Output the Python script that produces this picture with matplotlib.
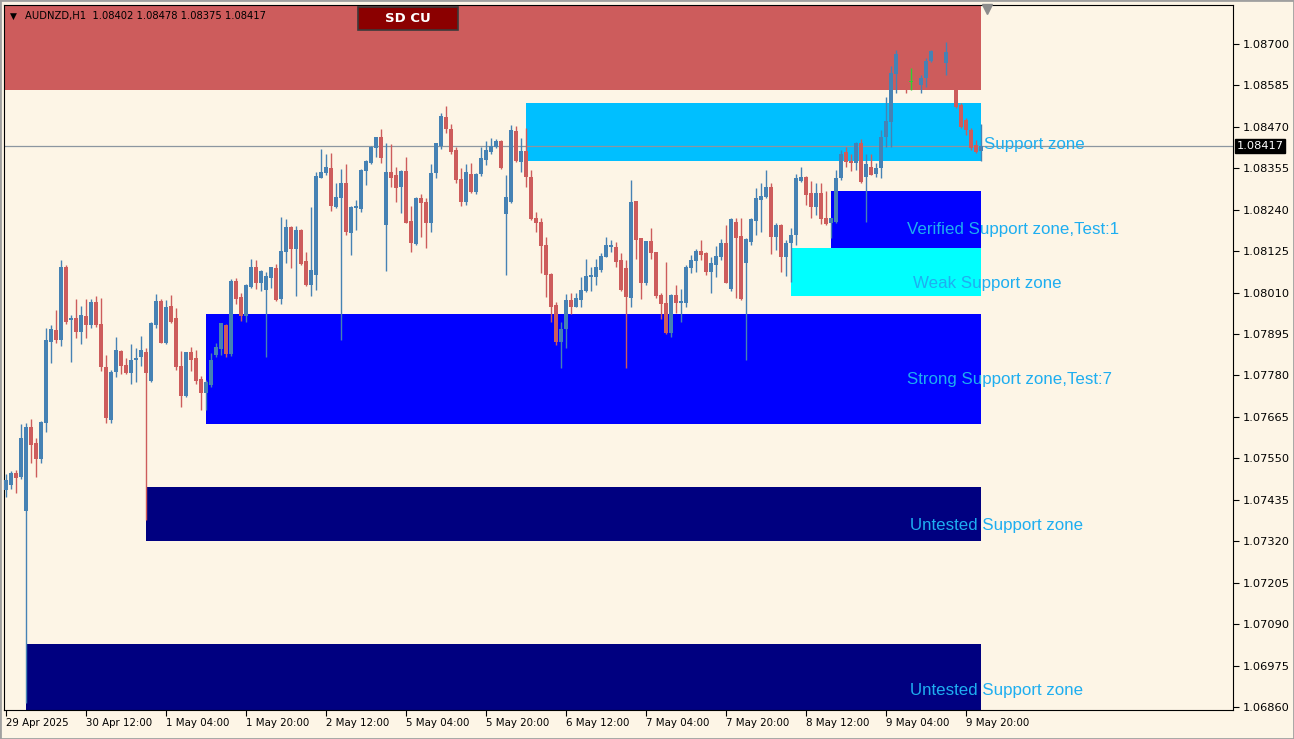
import numpy as np
import matplotlib.pyplot as plt
from matplotlib.patches import Rectangle

# AUDNZD H1 candles, 29 Apr 20:00 .. 9 May 23:00 (bar index = hour on chart)
opens = [
    1.07462, 1.07476, 1.07510, 1.07498, 1.07404, 1.07637, 1.07593, 1.07548, 1.07648, 1.07873,
    1.07906, 1.07879, 1.08081, 1.07934, 1.07940, 1.07901, 1.07945, 1.07920, 1.07984, 1.07923,
    1.07804, 1.07657, 1.07790, 1.07848, 1.07809, 1.07787, 1.07823, 1.07831, 1.07845, 1.07765,
    1.07920, 1.07987, 1.07870, 1.07973, 1.07940, 1.07806, 1.07723, 1.07845, 1.07829, 1.07770,
    1.07732, 1.07754, 1.07837, 1.07854, 1.07920, 1.07840, 1.08042, 1.07998, 1.07945, 1.08026,
    1.08081, 1.08037, 1.08017, 1.08051, 1.08078, 1.07992, 1.08123, 1.08192, 1.08131, 1.08184,
    1.08098, 1.08031, 1.08059, 1.08328, 1.08342, 1.08356, 1.08248, 1.08273, 1.08314, 1.08176,
    1.08245, 1.08242, 1.08348, 1.08370, 1.08411, 1.08442, 1.08198, 1.08345, 1.08336, 1.08303,
    1.08348, 1.08209, 1.08145, 1.08273, 1.08262, 1.08203, 1.08342, 1.08417, 1.08497, 1.08464,
    1.08406, 1.08325, 1.08262, 1.08339, 1.08289, 1.08339, 1.08378, 1.08400, 1.08414, 1.08431,
    1.08228, 1.08262, 1.08459, 1.08372, 1.08403, 1.08331, 1.08217, 1.08206, 1.08142, 1.08062,
    1.07976, 1.07873, 1.07909, 1.07990, 1.07970, 1.07990, 1.08015, 1.08053, 1.08053, 1.08073,
    1.08109, 1.08137, 1.08137, 1.08101, 1.08078, 1.07995, 1.08264, 1.08162, 1.08037, 1.08153,
    1.08123, 1.08003, 1.07981, 1.07898, 1.08003, 1.07981, 1.07981, 1.08078, 1.08098, 1.08126,
    1.08120, 1.08067, 1.08087, 1.08109, 1.08148, 1.08020, 1.08206, 1.08167, 1.08092, 1.08150,
    1.08209, 1.08267, 1.08275, 1.08303, 1.08164, 1.08198, 1.08109, 1.08148, 1.08170, 1.08320,
    1.08331, 1.08286, 1.08248, 1.08286, 1.08217, 1.08203, 1.08206, 1.08328, 1.08400, 1.08375,
    1.08370, 1.08425, 1.08331, 1.08359, 1.08339, 1.08356, 1.08442, 1.08484, 1.08617, 1.08672,
    1.08622, 1.08597, 1.08597, 1.08586, 1.08606, 1.08653, 1.08681, 1.08656, 1.08647, 1.08678,
    1.08622, 1.08531, 1.08489, 1.08461, 1.08420, 1.08402,
]
highs = [
    1.07507, 1.07515, 1.07518, 1.07646, 1.07648, 1.07659, 1.07607, 1.07654, 1.07912, 1.07920,
    1.07962, 1.08101, 1.08087, 1.07948, 1.07992, 1.07973, 1.07992, 1.07992, 1.08001, 1.07995,
    1.07837, 1.07795, 1.07887, 1.07851, 1.07829, 1.07868, 1.07856, 1.07890, 1.07856, 1.07929,
    1.08006, 1.07992, 1.07990, 1.08003, 1.07967, 1.07848, 1.07845, 1.07859, 1.07851, 1.07779,
    1.07768, 1.07842, 1.07870, 1.07926, 1.07923, 1.08048, 1.08051, 1.08009, 1.08034, 1.08103,
    1.08101, 1.08073, 1.08067, 1.08081, 1.08090, 1.08220, 1.08214, 1.08195, 1.08195, 1.08187,
    1.08123, 1.08248, 1.08345, 1.08409, 1.08395, 1.08397, 1.08314, 1.08353, 1.08367, 1.08250,
    1.08267, 1.08353, 1.08378, 1.08417, 1.08442, 1.08464, 1.08425, 1.08422, 1.08359, 1.08350,
    1.08386, 1.08250, 1.08275, 1.08284, 1.08273, 1.08367, 1.08425, 1.08509, 1.08528, 1.08478,
    1.08414, 1.08356, 1.08367, 1.08370, 1.08342, 1.08414, 1.08431, 1.08439, 1.08436, 1.08434,
    1.08336, 1.08475, 1.08472, 1.08439, 1.08467, 1.08350, 1.08234, 1.08217, 1.08164, 1.08065,
    1.07984, 1.07929, 1.08006, 1.08009, 1.08009, 1.08053, 1.08103, 1.08081, 1.08103, 1.08120,
    1.08164, 1.08156, 1.08150, 1.08120, 1.08101, 1.08323, 1.08264, 1.08162, 1.08153, 1.08189,
    1.08123, 1.08009, 1.08095, 1.08006, 1.08031, 1.08020, 1.08087, 1.08114, 1.08131, 1.08156,
    1.08123, 1.08109, 1.08139, 1.08159, 1.08198, 1.08217, 1.08217, 1.08217, 1.08162, 1.08217,
    1.08300, 1.08314, 1.08350, 1.08314, 1.08203, 1.08200, 1.08156, 1.08189, 1.08339, 1.08359,
    1.08334, 1.08320, 1.08314, 1.08314, 1.08292, 1.08217, 1.08350, 1.08406, 1.08414, 1.08395,
    1.08428, 1.08436, 1.08395, 1.08395, 1.08370, 1.08461, 1.08553, 1.08639, 1.08683, 1.08683,
    1.08633, 1.08633, 1.08614, 1.08614, 1.08661, 1.08683, 1.08697, 1.08670, 1.08706, 1.08689,
    1.08633, 1.08536, 1.08495, 1.08467, 1.08434, 1.08478,
]
lows = [
    1.07443, 1.07465, 1.07454, 1.07493, 1.06871, 1.07537, 1.07498, 1.07537, 1.07623, 1.07815,
    1.07870, 1.07862, 1.07923, 1.07818, 1.07884, 1.07868, 1.07884, 1.07912, 1.07915, 1.07793,
    1.07648, 1.07648, 1.07776, 1.07784, 1.07784, 1.07756, 1.07762, 1.07806, 1.07379, 1.07762,
    1.07912, 1.07870, 1.07868, 1.07926, 1.07795, 1.07693, 1.07720, 1.07793, 1.07756, 1.07684,
    1.07684, 1.07748, 1.07831, 1.07837, 1.07831, 1.07834, 1.07979, 1.07931, 1.07929, 1.08023,
    1.08020, 1.08015, 1.07831, 1.08023, 1.07987, 1.07979, 1.08092, 1.08078, 1.08001, 1.08087,
    1.08028, 1.08001, 1.08017, 1.08328, 1.08336, 1.08237, 1.08245, 1.07879, 1.08170, 1.08114,
    1.08184, 1.08234, 1.08309, 1.08367, 1.08386, 1.08370, 1.08070, 1.08303, 1.08262, 1.08231,
    1.08203, 1.08123, 1.08142, 1.08164, 1.08134, 1.08178, 1.08328, 1.08409, 1.08453, 1.08395,
    1.08314, 1.08250, 1.08253, 1.08286, 1.08284, 1.08334, 1.08364, 1.08395, 1.08411, 1.08353,
    1.08059, 1.08259, 1.08372, 1.08345, 1.08303, 1.08212, 1.08178, 1.08065, 1.07998, 1.07929,
    1.07865, 1.07801, 1.07856, 1.07951, 1.07970, 1.07970, 1.08012, 1.08015, 1.08031, 1.08067,
    1.08109, 1.08123, 1.08081, 1.08015, 1.07801, 1.07970, 1.08103, 1.07992, 1.08031, 1.08103,
    1.07995, 1.07937, 1.07895, 1.07887, 1.07954, 1.07929, 1.07970, 1.08065, 1.08067, 1.08101,
    1.08059, 1.08009, 1.08053, 1.08101, 1.08037, 1.08015, 1.07995, 1.07990, 1.07823, 1.08142,
    1.08170, 1.08178, 1.08273, 1.08117, 1.08128, 1.08067, 1.08056, 1.08040, 1.08142, 1.08317,
    1.08253, 1.08217, 1.08225, 1.08200, 1.08198, 1.08162, 1.08203, 1.08323, 1.08359, 1.08348,
    1.08350, 1.08314, 1.08206, 1.08336, 1.08331, 1.08328, 1.08414, 1.08414, 1.08564, 1.08600,
    1.08564, 1.08572, 1.08575, 1.08564, 1.08581, 1.08650, 1.08642, 1.08628, 1.08614, 1.08611,
    1.08522, 1.08467, 1.08447, 1.08406, 1.08397, 1.08375,
]
closes = [
    1.07490, 1.07510, 1.07496, 1.07607, 1.07637, 1.07587, 1.07548, 1.07651, 1.07879, 1.07909,
    1.07879, 1.08081, 1.07929, 1.07940, 1.07901, 1.07948, 1.07920, 1.07984, 1.07920, 1.07804,
    1.07662, 1.07790, 1.07851, 1.07806, 1.07787, 1.07823, 1.07829, 1.07851, 1.07787, 1.07926,
    1.07987, 1.07870, 1.07970, 1.07929, 1.07804, 1.07723, 1.07845, 1.07823, 1.07765, 1.07732,
    1.07762, 1.07823, 1.07859, 1.07926, 1.07840, 1.08042, 1.07992, 1.07945, 1.08031, 1.08081,
    1.08037, 1.08070, 1.08056, 1.08081, 1.07990, 1.08126, 1.08192, 1.08131, 1.08184, 1.08090,
    1.08031, 1.08073, 1.08334, 1.08345, 1.08359, 1.08250, 1.08275, 1.08314, 1.08178, 1.08248,
    1.08250, 1.08350, 1.08375, 1.08414, 1.08442, 1.08384, 1.08345, 1.08328, 1.08300, 1.08348,
    1.08203, 1.08148, 1.08273, 1.08259, 1.08203, 1.08342, 1.08425, 1.08500, 1.08464, 1.08400,
    1.08323, 1.08262, 1.08345, 1.08289, 1.08339, 1.08384, 1.08406, 1.08417, 1.08431, 1.08356,
    1.08275, 1.08461, 1.08375, 1.08403, 1.08331, 1.08214, 1.08203, 1.08139, 1.08059, 1.07970,
    1.07873, 1.07909, 1.07990, 1.07970, 1.07995, 1.08017, 1.08056, 1.08059, 1.08081, 1.08112,
    1.08142, 1.08142, 1.08095, 1.08017, 1.07998, 1.08262, 1.08156, 1.08037, 1.08153, 1.08120,
    1.08001, 1.07979, 1.07898, 1.08003, 1.07981, 1.07987, 1.08081, 1.08101, 1.08126, 1.08114,
    1.08067, 1.08092, 1.08112, 1.08148, 1.08037, 1.08214, 1.08162, 1.07992, 1.08159, 1.08214,
    1.08273, 1.08278, 1.08303, 1.08164, 1.08198, 1.08109, 1.08148, 1.08170, 1.08328, 1.08331,
    1.08281, 1.08248, 1.08286, 1.08214, 1.08200, 1.08217, 1.08328, 1.08395, 1.08372, 1.08370,
    1.08425, 1.08317, 1.08367, 1.08336, 1.08356, 1.08442, 1.08486, 1.08620, 1.08672, 1.08622,
    1.08589, 1.08597, 1.08583, 1.08606, 1.08653, 1.08681, 1.08656, 1.08647, 1.08678, 1.08622,
    1.08525, 1.08470, 1.08461, 1.08411, 1.08400, 1.08417,
]

# time axis
time_ticks = [0, 16, 32, 48, 64, 80, 96, 112, 128, 144, 160, 176, 192]
time_labels = ['29 Apr 2025', '30 Apr 12:00', '1 May 04:00', '1 May 20:00', '2 May 12:00',
               '5 May 04:00', '5 May 20:00', '6 May 12:00', '7 May 04:00', '7 May 20:00',
               '8 May 12:00', '9 May 04:00', '9 May 20:00']

# price axis
price_ticks = [1.08700, 1.08585, 1.08470, 1.08355, 1.08240, 1.08125, 1.08010, 1.07895,
               1.07780, 1.07665, 1.07550, 1.07435, 1.07320, 1.07205, 1.07090, 1.06975, 1.06860]
bid = 1.08417

# supply / demand zones: start bar, low, high, colour
zone_start = [-5, 104, 165, 157, 40, 28, 4]
zone_low = [1.08572, 1.08375, 1.08134, 1.08001, 1.07646, 1.07321, 1.06700]
zone_high = [1.09000, 1.08536, 1.08292, 1.08134, 1.07951, 1.07471, 1.07035]
zone_colors = ['#CD5C5C', '#00BFFF', '#0000FF', '#00FFFF', '#0000FF', '#000080', '#000080']
zone_end = 195

zone_texts = ['Support zone', 'Verified Support zone,Test:1', 'Weak Support zone',
              'Strong Support zone,Test:7', 'Untested Support zone', 'Untested Support zone']
text_x = [195.6, 180.2, 181.4, 180.2, 180.8, 180.8]
text_y = [1.08422, 1.08184, 1.08034, 1.07768, 1.07365, 1.06907]

bg = '#FDF5E6'
bull = '#4682B4'
bear = '#CD5C5C'

fig = plt.figure(figsize=(12.94, 7.39), dpi=100, facecolor=bg)
ax = fig.add_axes([4 / 1294, 29 / 739, 1229 / 1294, 705 / 739])
ax.set_facecolor(bg)
ax.set_xlim(-0.4, 245.4)
ax.set_ylim(1.068517, 1.088082)

# zones
for s, lo, hi, col in zip(zone_start, zone_low, zone_high, zone_colors):
    ax.add_patch(Rectangle((s, lo), zone_end - s, hi - lo, facecolor=col,
                           edgecolor='none', zorder=1))

# bid line
ax.axhline(bid, color='#8C96A0', linewidth=0.9, zorder=2)

# candles
o = np.array(opens)
h = np.array(highs)
l = np.array(lows)
c = np.array(closes)
x = np.arange(len(o))
cols = np.where(c > o, bull, np.where(c < o, bear, '#32CD32'))
ax.vlines(x, l, h, colors=cols, linewidth=1.0, zorder=3)
body_h = np.maximum(np.abs(c - o), 0.00003)
ax.bar(x, body_h, bottom=np.minimum(o, c) - np.where(c == o, 0.000015, 0), width=0.72,
       color=cols, linewidth=0, zorder=3)

# zone labels
for t, tx, ty in zip(zone_texts, text_x, text_y):
    ax.text(tx, ty, t, color='#1EAEF0', fontsize=12.2, family='Liberation Sans',
            ha='left', va='center', zorder=4, clip_on=False)

# axes styling
for sp in ax.spines.values():
    sp.set_color('black')
    sp.set_linewidth(0.8)
ax.yaxis.tick_right()
ax.set_yticks(price_ticks)
ax.set_yticklabels(['%.5f' % p for p in price_ticks])
ax.tick_params(axis='y', direction='out', length=4, width=0.8, labelsize=8.2, pad=3)
ax.set_xticks(time_ticks)
ax.set_xticklabels(time_labels, ha='left')
ax.tick_params(axis='x', direction='out', length=4, width=0.8, labelsize=7.4, pad=2)

# current price box
ax.text(1.003, bid, '%.5f' % bid, transform=ax.get_yaxis_transform(), color='white',
        fontsize=8.2, va='center', ha='left',
        bbox=dict(boxstyle='square,pad=0.15', facecolor='black', edgecolor='black'))

# chart shift marker
ax.plot([196.2], [1.08798], marker='v', color='#8C8C8C', markersize=7, clip_on=False, zorder=5)

# header
fig.text(13 / 1294, 1 - 16 / 739, '\u25bc', fontsize=6.5, color='black', va='center', ha='center')
fig.text(25 / 1294, 1 - 16 / 739, 'AUDNZD,H1  1.08402 1.08478 1.08375 1.08417',
         fontsize=7.2, color='black', va='center', ha='left')

# SD CU button
fig.patches.append(Rectangle((358 / 1294, 1 - 30 / 739), 100 / 1294, 23 / 739,
                             transform=fig.transFigure, facecolor='#8B0000',
                             edgecolor='#3A3A3A', linewidth=1.2))
fig.text(408 / 1294, 1 - 18.5 / 739, 'SD CU', color='white', fontsize=9.5, fontweight='bold',
         va='center', ha='center')

# window frame
fig.patches.append(Rectangle((0, 0), 1, 1, transform=fig.transFigure, fill=False,
                             edgecolor='#A0A0A0', linewidth=2))

plt.savefig('out.png', dpi=100, facecolor=bg)
plt.close()
